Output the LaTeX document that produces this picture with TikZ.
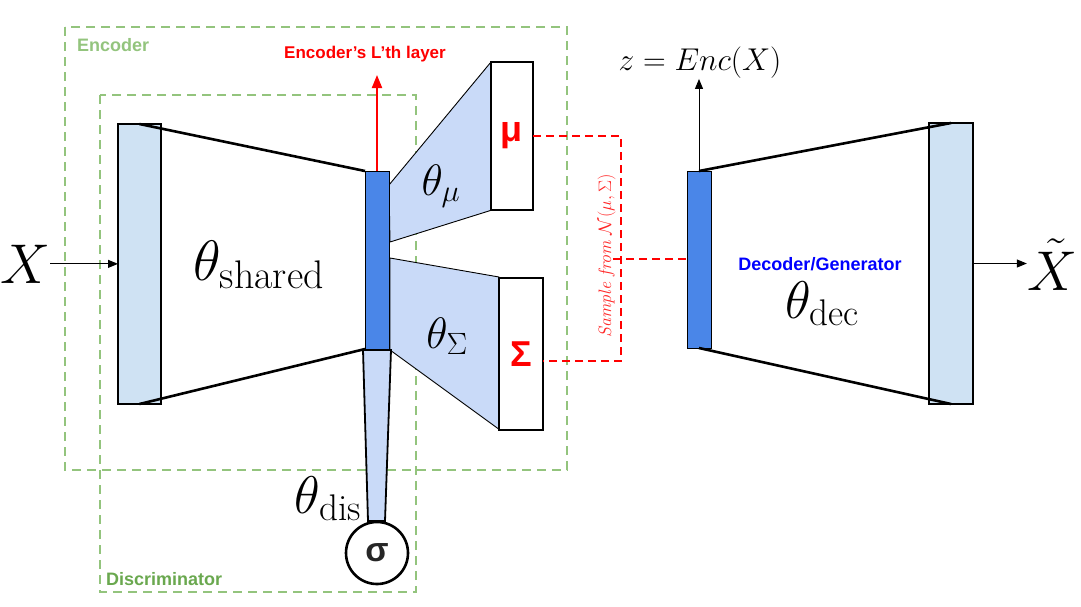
\RequirePackage{fix-cm}
\documentclass[tikz,border=0pt]{standalone}
\usepackage{fontspec}
\newfontfamily\arial{Liberation Sans}
\usetikzlibrary{arrows.meta,calc}
\definecolor{encgreen}{HTML}{93C47D}
\definecolor{disgreen}{HTML}{6AA84F}
\definecolor{lightblue}{HTML}{CFE2F3}
\definecolor{paleblue}{HTML}{C9DAF8}
\definecolor{midblue}{HTML}{4A86E8}
\definecolor{decblue}{HTML}{0000FF}
\definecolor{sred}{HTML}{FF0000}
\begin{document}
\begin{tikzpicture}[x=1pt,y=-1pt,
  layer/.style={draw=black, line width=2pt, inner sep=0pt, outer sep=0pt},
  conn/.style={line width=2.6pt},
  frame/.style={draw=encgreen, line width=1.8pt, dash pattern=on 9pt off 6pt},
  sdash/.style={draw=sred, line width=1.8pt, dash pattern=on 8pt off 5pt},
  trap/.style={fill=paleblue, draw=black, line width=0.9pt},
  bigmath/.style={inner sep=0pt, font=\fontsize{53}{63}\selectfont},
  hugemath/.style={inner sep=0pt, font=\fontsize{56}{66}\selectfont},
  midmath/.style={inner sep=0pt, font=\fontsize{44}{52}\selectfont},
  sanslbl/.style={inner sep=0pt, font=\arial\bfseries\fontsize{18}{20}\selectfont},
  tip/.style={-{Triangle[length=10pt,width=8pt]}},
]
\useasboundingbox (0,0) rectangle (1081,606);

% frames
\draw[frame] (65,27) rectangle (567,470);
\draw[frame] (100,95) rectangle (416,592);
\node[sanslbl, anchor=base west, text=encgreen] (enclbl) at (77,51) {Encoder};
\node[sanslbl, anchor=base west, text=disgreen] (dislbl) at (106,585) {Discriminator};

% trapezoids
\path[trap] (389,185) -- (491,62) -- (492,210) -- (390,242) -- cycle;
\path[trap] (390,258) -- (499,277) -- (500,430) -- (390,350) -- cycle;
\path[trap, line width=1.8pt] (363,350) -- (391,350) -- (385,521) -- (368,521) -- cycle;

% layers
\node[layer, fill=lightblue, minimum width=43pt, minimum height=280pt] (in) at (139.5,264) {};
\node[layer, fill=midblue, line width=1pt, minimum width=24pt, minimum height=178pt] (mid) at (377,260) {};
\node[layer, fill=white, minimum width=42pt, minimum height=148pt, text=sred,
      font=\arial\bfseries\fontsize{36}{40}\selectfont] (mu) at (512,136) {μ};
\node[layer, fill=white, minimum width=44pt, minimum height=152pt, text=sred,
      font=\arial\bfseries\fontsize{36}{40}\selectfont] (sig) at (521,354) {Σ};
\node[layer, fill=midblue, line width=1pt, minimum width=24pt, minimum height=177pt] (dec) at (699,259.5) {};
\node[layer, fill=lightblue, minimum width=44pt, minimum height=281pt] (out) at (951,263.5) {};
\node[circle, draw=black, line width=2.6pt, fill=white, minimum size=62pt, inner sep=0pt,
      text=black!85, font=\arial\bfseries\fontsize{34}{38}\selectfont] (sgm) at (377,553) {σ};

% encoder / decoder outline lines
\draw[conn] (in.north) -- (mid.north west);
\draw[conn] (in.south) -- (mid.south west);
\draw[conn] (dec.north) -- (out.north);
\draw[conn] (dec.south) -- (out.south);

% math labels
\node[hugemath, anchor=base] (X) at (25,283) {$X$};
\node[hugemath, anchor=base] (Xt) at (1052,290) {$\tilde{X}$};
\node[inner sep=0pt, font=\fontsize{57}{66}\selectfont, anchor=base] (tshared) at (259,280) {$\theta_{\mathrm{shared}}$};
\node[midmath, anchor=base] (tmu) at (441,195) {$\theta_{\mu}$};
\node[midmath, anchor=base] (tsig) at (447,348) {$\theta_{\Sigma}$};
\node[bigmath, anchor=base] (tdis) at (328,513) {$\theta_{\mathrm{dis}}$};
\node[bigmath, anchor=base] (tdec) at (822,318) {$\theta_{\mathrm{dec}}$};
\node[sanslbl, anchor=base, text=decblue] (declbl) at (820,270) {Decoder/Generator};
\node[inner sep=0pt, font=\fontsize{31.5}{36}\selectfont] (z) at (700,63) {$z = Enc(X)$};
\node[sanslbl, anchor=base, text=sred, font=\arial\bfseries\fontsize{17}{19}\selectfont] (lth) at (365,58) {Encoder’s L’th layer};

% arrows
\draw[tip, line width=1pt] (X.east) -- (X.east -| in.west);
\draw[tip, line width=1pt] (out.east) -- (out.east -| Xt.west);
\draw[tip, line width=1pt] (dec.north) -- (dec.north |- z.south);
\coordinate (lthtip) at (377,75);
\draw[sred, line width=2pt, -{Triangle[length=13pt,width=10pt]}] (mid.north) -- (lthtip);

% sampling
\node[rotate=90, inner sep=0pt, text=sred!85, font=\fontsize{18}{21}\selectfont] (smp) at (606.5,256) {\textit{Sample from} $\mathcal{N}(\mu,\Sigma)$};
\coordinate (corner) at (621,361);
\draw[sdash] (mu.east) -| (corner) -- (corner -| sig.east);
\coordinate (tick) at (613,259);
\draw[sdash] (tick) -- (tick -| dec.west);
\end{tikzpicture}
\end{document}
